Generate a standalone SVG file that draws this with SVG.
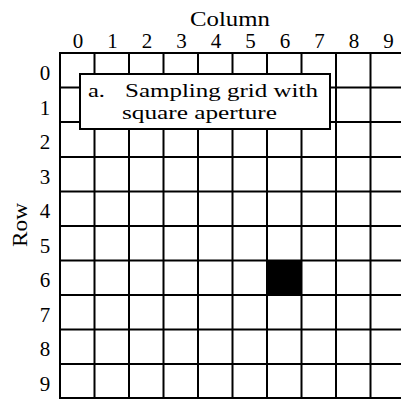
<svg xmlns="http://www.w3.org/2000/svg" width="401" height="399" viewBox="0 0 401 399">
<style>
.t{font-family:"Liberation Serif","Times New Roman",serif;fill:#000}
.big{font-size:22px}
.box{font-size:19.5px}
.num{font-size:21px;text-anchor:middle}
.grid line{stroke:#000;stroke-width:2}
</style>
<rect width="401" height="399" fill="#fff"/>
<g id="title">
<text class="t big" x="190" y="26" textLength="80" lengthAdjust="spacingAndGlyphs">Column</text>
<text class="t big" transform="translate(27,247) rotate(-90)" textLength="44" lengthAdjust="spacingAndGlyphs">Row</text>
</g>
<g id="col-labels">
<text class="t num" x="78" y="48">0</text>
<text class="t num" x="112.5" y="48">1</text>
<text class="t num" x="147" y="48">2</text>
<text class="t num" x="181.5" y="48">3</text>
<text class="t num" x="216" y="48">4</text>
<text class="t num" x="250.5" y="48">5</text>
<text class="t num" x="285" y="48">6</text>
<text class="t num" x="319.5" y="48">7</text>
<text class="t num" x="354" y="48">8</text>
<text class="t num" x="388.5" y="48">9</text>
</g>
<g id="row-labels">
<text class="t num" x="45" y="80">0</text>
<text class="t num" x="45" y="114.5">1</text>
<text class="t num" x="45" y="149">2</text>
<text class="t num" x="45" y="183.5">3</text>
<text class="t num" x="45" y="218">4</text>
<text class="t num" x="45" y="252.5">5</text>
<text class="t num" x="45" y="287">6</text>
<text class="t num" x="45" y="321.5">7</text>
<text class="t num" x="45" y="356">8</text>
<text class="t num" x="45" y="390.5">9</text>
</g>
<g id="aperture">
<rect x="267" y="260" width="34.5" height="35.5" fill="#000"/>
</g>
<g id="grid" class="grid">
<line x1="60" y1="53" x2="60" y2="399"/>
<line x1="94.5" y1="53" x2="94.5" y2="399"/>
<line x1="129" y1="53" x2="129" y2="399"/>
<line x1="163.5" y1="53" x2="163.5" y2="399"/>
<line x1="198" y1="53" x2="198" y2="399"/>
<line x1="232.5" y1="53" x2="232.5" y2="399"/>
<line x1="267" y1="53" x2="267" y2="399"/>
<line x1="301.5" y1="53" x2="301.5" y2="399"/>
<line x1="336" y1="53" x2="336" y2="399"/>
<line x1="370.5" y1="53" x2="370.5" y2="399"/>
<line x1="59" y1="53" x2="401" y2="53"/>
<line x1="59" y1="87.5" x2="401" y2="87.5"/>
<line x1="59" y1="122" x2="401" y2="122"/>
<line x1="59" y1="157" x2="401" y2="157"/>
<line x1="59" y1="191.5" x2="401" y2="191.5"/>
<line x1="59" y1="226" x2="401" y2="226"/>
<line x1="59" y1="260.5" x2="401" y2="260.5"/>
<line x1="59" y1="295" x2="401" y2="295"/>
<line x1="59" y1="329.5" x2="401" y2="329.5"/>
<line x1="59" y1="364" x2="401" y2="364"/>
<line x1="59" y1="398" x2="401" y2="398"/>
</g>
<g id="label-box">
<rect x="80" y="74" width="250" height="55" fill="#fff" stroke="#000" stroke-width="2"/>
<text class="t box" x="88" y="96.5" textLength="17" lengthAdjust="spacingAndGlyphs">a.</text>
<text class="t box" x="125" y="96.5" textLength="193" lengthAdjust="spacingAndGlyphs">Sampling grid with</text>
<text class="t box" x="122" y="118.5" textLength="155" lengthAdjust="spacingAndGlyphs">square aperture</text>
</g>
</svg>
